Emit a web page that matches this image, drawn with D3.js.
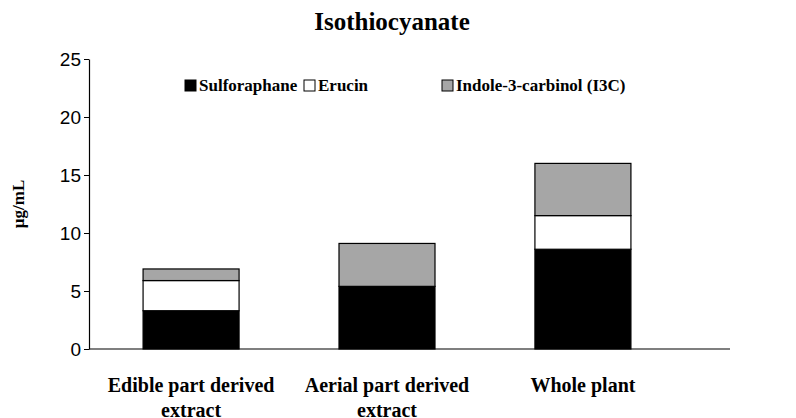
<!DOCTYPE html>
<html><head><meta charset="utf-8">
<script src="https://cdn.jsdelivr.net/npm/d3@7"></script>
<style>body{margin:0;background:#fff}svg{font-family:"Liberation Serif",serif;font-weight:bold}</style>
</head><body><svg id="c" width="796" height="418"></svg>
<script>
const categories = ['Edible part derived extract', 'Aerial part derived extract', 'Whole plant'];
const catLines = [['Edible part derived', 'extract'], ['Aerial part derived', 'extract'], ['Whole plant']];
const sulforaphane = [3.3, 5.4, 8.6];
const erucin = [2.6, 0, 2.9];
const i3c = [1.0, 3.7, 4.5];
const seriesNames = ['Sulforaphane', 'Erucin', 'Indole-3-carbinol (I3C)'];
const colors = ['#000000', '#ffffff', '#a6a6a6'];
const yTicks = [0, 5, 10, 15, 20, 25];

const svg = d3.select('#c');
const margin = { top: 59, left: 89, bottom: 69 };
const width = 796, height = 418;

const x = d3.scaleBand().domain(categories).range([margin.left, 685]).paddingInner(0.51).paddingOuter(0.276);
const y = d3.scaleLinear().domain([0, 25]).range([height - margin.bottom, margin.top]);

const rows = categories.map((c, i) => ({ cat: c, s0: sulforaphane[i], s1: erucin[i], s2: i3c[i] }));
const stack = d3.stack().keys(['s0', 's1', 's2'])(rows);

svg.selectAll('g.layer').data(stack).join('g')
  .attr('fill', (d, i) => colors[i])
  .selectAll('rect').data(d => d).join('rect')
  .attr('x', d => x(d.data.cat))
  .attr('width', x.bandwidth())
  .attr('y', d => y(d[1]))
  .attr('height', d => y(d[0]) - y(d[1]))
  .attr('stroke', '#000').attr('stroke-width', 1.2);

const ya = svg.append('g').attr('transform', `translate(${margin.left},0)`)
  .call(d3.axisLeft(y).tickValues(yTicks).tickSize(5).tickSizeOuter(0));
ya.selectAll('text').attr('font-size', 19).attr('fill', '#000').attr('font-weight', 'normal');
ya.select('.domain').attr('stroke', '#000').attr('stroke-width', 1.2);
ya.selectAll('line').attr('stroke', '#000');

svg.append('line').attr('x1', margin.left).attr('x2', 730)
  .attr('y1', y(0)).attr('y2', y(0)).attr('stroke', '#000').attr('stroke-width', 1.2);

categories.forEach((c, i) => {
  const cx = x(c) + x.bandwidth() / 2;
  const t = svg.append('text').attr('text-anchor', 'middle').attr('font-size', 20).attr('y', 392);
  catLines[i].forEach((l, j) => t.append('tspan').attr('x', cx).attr('dy', j ? 25 : 0).text(l));
});

svg.append('text').attr('x', 392).attr('y', 30).attr('text-anchor', 'middle')
  .attr('font-size', 25).text('Isothiocyanate');

svg.append('text').attr('transform', `translate(24,${(margin.top + height - margin.bottom) / 2}) rotate(-90)`)
  .attr('text-anchor', 'middle').attr('font-size', 17).text('µg/mL');

const legX = [185, 304, 442];
seriesNames.forEach((n, i) => {
  const g = svg.append('g').attr('transform', `translate(${legX[i]},80)`);
  g.append('rect').attr('width', 11).attr('height', 11).attr('fill', colors[i]).attr('stroke', '#000');
  g.append('text').attr('x', 14).attr('y', 11).attr('font-size', 17).text(n);
});
</script></body></html>
